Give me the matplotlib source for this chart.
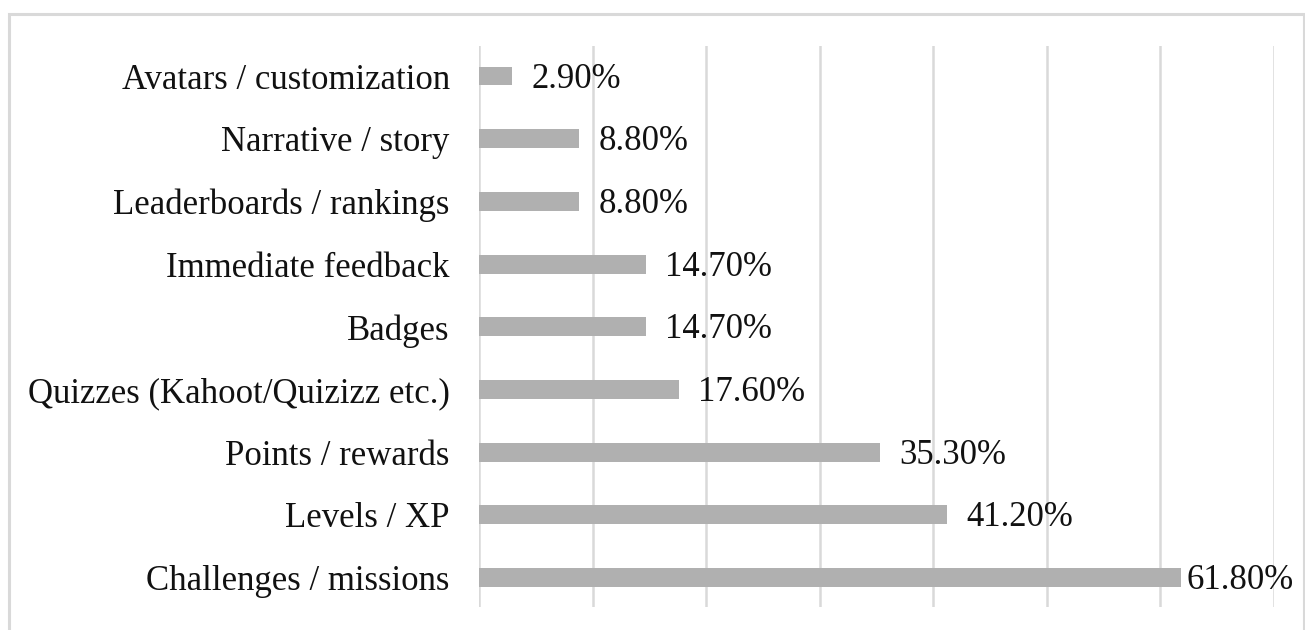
import matplotlib.pyplot as plt
from matplotlib.patches import Rectangle

# data (bottom to top)
features = ['Challenges / missions', 'Levels / XP', 'Points / rewards',
            'Quizzes (Kahoot/Quizizz etc.)', 'Badges', 'Immediate feedback',
            'Leaderboards / rankings', 'Narrative / story', 'Avatars / customization']
share = [61.8, 41.2, 35.3, 17.6, 14.7, 14.7, 8.8, 8.8, 2.9]
value_labels = ['61.80%', '41.20%', '35.30%', '17.60%', '14.70%', '14.70%',
                '8.80%', '8.80%', '2.90%']

plt.rcParams['font.family'] = ['Liberation Serif', 'DejaVu Serif']
FS = 25

fig = plt.figure(figsize=(13.05, 6.3), dpi=100)
ax = fig.add_axes([479/1305, 23/630, 795/1305, 561/630])

ypos = list(range(len(features)))
ax.barh(ypos, share, height=0.3, color='#b0b0b0', zorder=2)

anns = []
for y, v, lab in zip(ypos, share, value_labels):
    # baseline shifted down by half the cap height so digits sit centred on the bar
    a = ax.annotate(lab, (v, y), xytext=(14, -0.33 * FS), textcoords='offset points',
                    va='baseline', ha='left', fontsize=FS, color='#111111',
                    annotation_clip=False)
    anns.append(a)

ax.set_yticks(ypos)
ax.set_yticklabels(features, fontsize=FS, color='#111111')
ax.tick_params(axis='y', length=0, pad=21)
ax.tick_params(axis='x', length=0, labelbottom=False)
ax.set_xlim(0, 70)
ax.set_xticks(range(0, 71, 10))
ax.set_ylim(-0.47, 8.48)
ax.grid(axis='x', color='#d9d9d9', linewidth=1.8, zorder=0)
for s in ax.spines.values():
    s.set_visible(False)

# outer chart frame
frame = Rectangle((9/1305, -0.05), 1295/1305, 1 - 14/630 + 0.05,
                  transform=fig.transFigure, fill=False,
                  edgecolor='#d9d9d9', linewidth=2.2, clip_on=False)
fig.patches.append(frame)

# keep labels inside the frame (pull back the ones that overflow)
fig.canvas.draw()
r = fig.canvas.get_renderer()
limit = 1294
for a in anns:
    bb = a.get_window_extent(r)
    if bb.x1 > limit:
        shift = (bb.x1 - limit) * 72 / fig.dpi
        x, y = a.xyann
        a.xyann = (x - shift, y)

fig.savefig('out.png', dpi=100)
